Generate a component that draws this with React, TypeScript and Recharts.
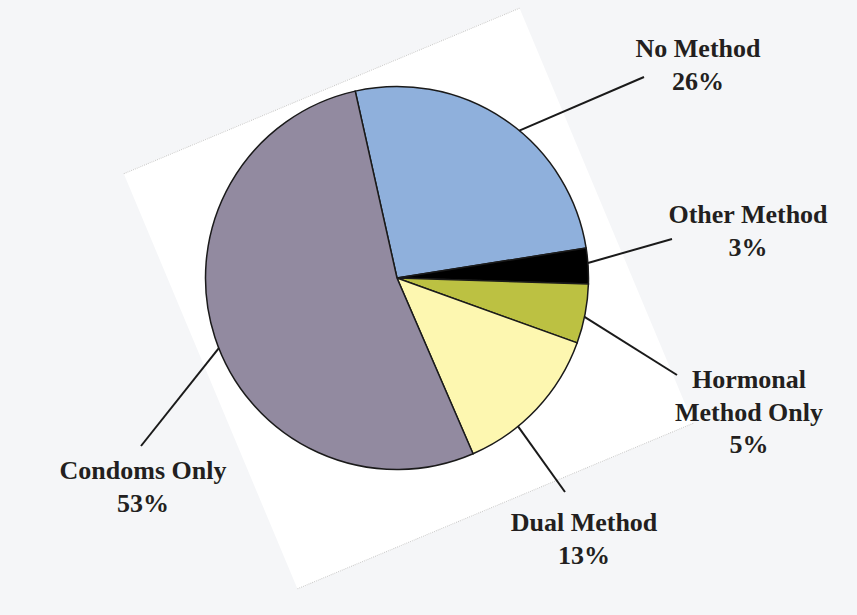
import {Cell, Pie, PieChart} from "recharts";

const categorias = ["No Method", "Other Method", "Hormonal Method Only", "Dual Method", "Condoms Only"]
const percentuais = [26, 3, 5, 13, 53]
const rotulos = [["No Method", "26%"], ["Other Method", "3%"], ["Hormonal", "Method Only", "5%"], ["Dual Method", "13%"], ["Condoms Only", "53%"]]

const cores = ["#8fb0dc", "#000000", "#bcc142", "#fdf7b0", "#928aa0"]

// posição dos rótulos em relação ao centro da pizza
const layoutRotulos = [
    {tx: 301, ty: -221, lx: 247, ly: -201, desvio: -5.5},
    {tx: 351, ty: -55, lx: 275, ly: -39, desvio: 0.9},
    {tx: 352, ty: 110, lx: 280, ly: 97, desvio: -0.9},
    {tx: 187, ty: 253, lx: 168, ly: 214, desvio: -7.6},
    {tx: -254, ty: 201, lx: -256, ly: 168, desvio: 3.5},
]

const dados = categorias.map((nome, i) => ({nome, valor: percentuais[i]}))

const RAD = Math.PI / 180

const Rotulo = (props: any) => {
    const {cx, cy, midAngle, outerRadius, index} = props
    const l = layoutRotulos[index]
    const ang = (midAngle + l.desvio) * RAD
    const x0 = cx + outerRadius * Math.cos(ang)
    const y0 = cy - outerRadius * Math.sin(ang)
    return (
        <g>
            <line x1={x0} y1={y0} x2={cx + l.lx} y2={cy + l.ly} stroke="#1a1a1a" strokeWidth={2} />
            <text textAnchor="middle" fontFamily="'Liberation Serif', 'Times New Roman', serif" fontWeight="bold" fontSize={26} fill="#231f20">
                {rotulos[index].map((linha, j) => (
                    <tspan key={j} x={cx + l.tx} y={cy + l.ty + j * 32.5}>{linha}</tspan>
                ))}
            </text>
        </g>
    )
}

export default function App() {
    return (
        <div style={{position: "fixed", left: 0, top: 0, width: 857, height: 615, background: "#f5f6f8", overflow: "hidden"}}>
            <div style={{
                position: "absolute", left: 193.5, top: 73, width: 429, height: 451,
                background: "#ffffff", transform: "rotate(-22.7deg)",
                borderTop: "1px dotted #c8c8c8", borderBottom: "1px dotted #c8c8c8", boxSizing: "border-box"
            }} />
            <div style={{position: "absolute", left: 0, top: 0}}>
                <PieChart width={857} height={615} margin={{top: 0, right: 0, bottom: 0, left: 0}}>
                    <Pie
                        data={dados}
                        dataKey="valor"
                        nameKey="nome"
                        cx={397}
                        cy={278}
                        outerRadius={191.5}
                        startAngle={102.6}
                        endAngle={-257.4}
                        label={Rotulo}
                        labelLine={false}
                        isAnimationActive={false}
                    >
                        {dados.map((d, i) => (
                            <Cell key={d.nome} fill={cores[i]} stroke="#1a1a1a" strokeWidth={1.5} />
                        ))}
                    </Pie>
                </PieChart>
            </div>
        </div>
    )
}
